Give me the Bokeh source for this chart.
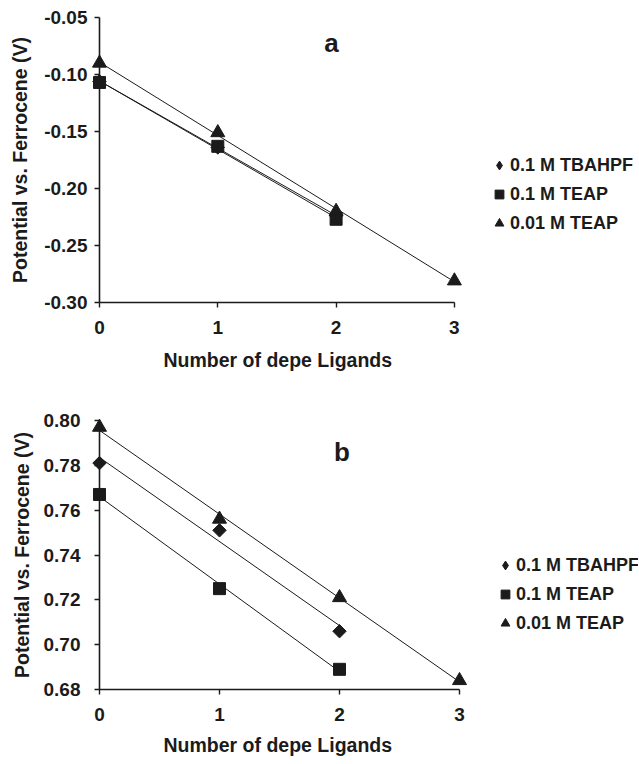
import numpy as np
from bokeh.plotting import figure
from bokeh.models import (Range1d, FixedTicker, PrintfTickFormatter, Legend,
                          LegendItem, Label, Title)
from bokeh.layouts import column
from bokeh.embed import file_html
from bokeh.resources import INLINE

# ---------------- data ----------------
series_names = ["0.1 M TBAHPF", "0.1 M TEAP", "0.01 M TEAP"]

ligands_2 = [0, 1, 2]
ligands_3 = [0, 1, 2, 3]

# panel a
a_tbahpf = [-0.106, -0.164, -0.224]
a_teap = [-0.107, -0.163, -0.227]
a_teap_dilute = [-0.090, -0.151, -0.220, -0.281]

# panel b
b_tbahpf = [0.781, 0.751, 0.706]
b_teap = [0.767, 0.725, 0.689]
b_teap_dilute = [0.797, 0.756, 0.721, 0.684]

x_ticks = [0, 1, 2, 3]
y_ticks_a = [-0.30, -0.25, -0.20, -0.15, -0.10, -0.05]
y_ticks_b = [0.68, 0.70, 0.72, 0.74, 0.76, 0.78, 0.80]

x_title = "Number of depe Ligands"
y_title = "Potential vs. Ferrocene (V)"

FONT = "Liberation Sans"
INK = "#1b1b1b"
WIDTH = 639
LEFT = 99


def make_panel(letter, series, y_ticks, height, border_top, border_bottom,
               px_per_unit, y_std, y_lab_std, xt_offset, xt_standoff,
               letter_pos, legend_loc):
    # x range extends past 3 so the legend sits inside the frame;
    # the axis itself is bounded to 0..3
    x_end = (WIDTH - 1 - LEFT) / px_per_unit
    p = figure(width=WIDTH, height=height, output_backend="svg",
               toolbar_location=None,
               x_range=Range1d(x_ticks[0], x_end),
               y_range=Range1d(y_ticks[0], y_ticks[-1]),
               min_border_left=LEFT, min_border_right=1,
               min_border_top=border_top, min_border_bottom=border_bottom)
    p.outline_line_color = None
    p.grid.visible = False
    p.background_fill_color = "white"
    p.border_fill_color = "white"

    # axes
    p.xaxis.ticker = FixedTicker(ticks=x_ticks)
    p.xaxis.formatter = PrintfTickFormatter(format="%d")
    p.xaxis.bounds = (x_ticks[0], x_ticks[-1])
    p.yaxis.ticker = FixedTicker(ticks=y_ticks)
    p.yaxis.formatter = PrintfTickFormatter(format="%.2f")
    p.yaxis.axis_label = y_title
    for ax in (p.xaxis, p.yaxis):
        ax.axis_line_color = INK
        ax.axis_line_width = 1.6
        ax.major_tick_line_color = INK
        ax.major_tick_line_width = 1.4
        ax.major_tick_out = 5
        ax.major_tick_in = 0
        ax.minor_tick_line_color = None
        ax.major_label_text_font = FONT
        ax.major_label_text_font_style = "bold"
        ax.major_label_text_font_size = "19px"
        ax.major_label_text_color = INK
        ax.axis_label_text_font = FONT
        ax.axis_label_text_font_style = "bold"
        ax.axis_label_text_font_size = "19.5px"
        ax.axis_label_text_color = INK
    p.xaxis.major_label_standoff = 13
    p.yaxis.major_label_standoff = y_std
    p.yaxis.axis_label_standoff = y_lab_std

    # x-axis title, centred under the 0..3 axis span
    xt = Title(text=x_title, align="left", offset=xt_offset,
               text_font=FONT, text_font_style="bold",
               text_font_size="19.5px", text_color=INK,
               standoff=xt_standoff)
    p.add_layout(xt, "below")

    markers = [dict(marker="square", size=9.5, angle=np.pi / 4),
               dict(marker="square", size=12, angle=0),
               dict(marker="triangle", size=14, angle=0)]
    items = []
    for name, (xs, ys), mk in zip(series_names, series, markers):
        slope, icpt = np.polyfit(xs, ys, 1)
        lx = [min(xs), max(xs)]
        ly = [icpt + slope * v for v in lx]
        p.line(lx, ly, line_color=INK, line_width=1)
    for i, (name, (xs, ys), mk) in enumerate(zip(series_names, series,
                                                 markers)):
        legend_r = None
        if i == 0:
            # diamond underneath the rotated square; used as legend swatch
            legend_r = p.scatter(xs, ys, marker="diamond", size=11,
                                 fill_color=INK, line_color=INK,
                                 level="overlay")
        r = p.scatter(xs, ys, marker=mk["marker"], size=mk["size"],
                      angle=mk["angle"], fill_color=INK, line_color=INK,
                      level="overlay")
        items.append(LegendItem(label=name,
                                renderers=[legend_r if legend_r else r]))

    legend = Legend(items=items, location=legend_loc, orientation="vertical")
    legend.label_text_font = FONT
    legend.label_text_font_style = "bold"
    legend.label_text_font_size = "18px"
    legend.label_text_color = INK
    legend.glyph_width = 22
    legend.glyph_height = 24
    legend.label_height = 24
    legend.label_standoff = 0
    legend.spacing = 5
    legend.padding = 0
    legend.margin = 0
    legend.border_line_color = None
    legend.background_fill_alpha = 0
    p.add_layout(legend)

    lab = Label(x=letter_pos[0], y=letter_pos[1], text=letter,
                text_font=FONT, text_font_style="bold",
                text_font_size="26px", text_color=INK,
                text_align="center", text_baseline="middle")
    p.add_layout(lab)
    return p


pa = make_panel("a",
                [(ligands_2, a_tbahpf), (ligands_2, a_teap),
                 (ligands_3, a_teap_dilute)],
                y_ticks_a, 380, 17, 78, 118.3, 7, 10, 64, 20,
                (1.96, -0.0728), (389, 67))
pb = make_panel("b",
                [(ligands_2, b_tbahpf), (ligands_2, b_teap),
                 (ligands_3, b_teap_dilute)],
                y_ticks_b, 384, 40, 72, 120.0, 14, 8, 64, 17,
                (2.02, 0.786), (395, 54))

layout = column(pa, pb, spacing=0)
open("out.html", "w").write(file_html(layout, INLINE))
